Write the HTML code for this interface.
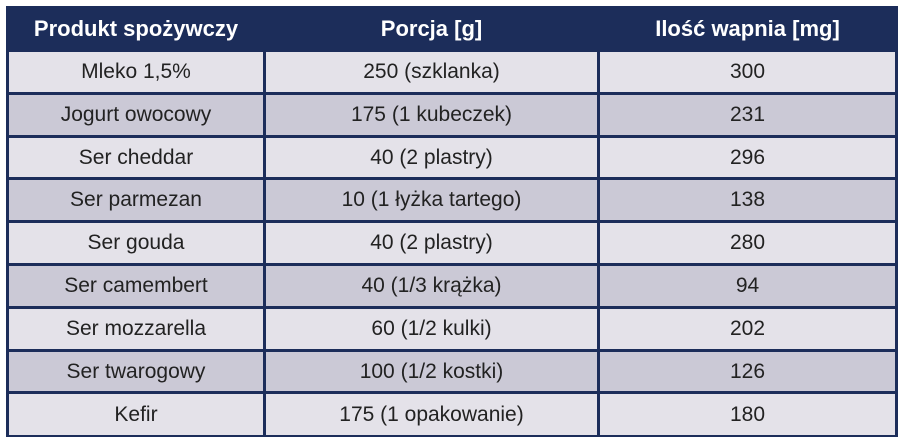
<!DOCTYPE html>
<html><head><meta charset="utf-8"><style>
body{margin:0;width:903px;height:442px;background:#fff;position:relative;overflow:hidden;font-family:"Liberation Sans",sans-serif}
.t{position:absolute;left:6px;top:6px;width:892px;height:431px;background:#1c2d5a}
.c{position:absolute;display:flex;align-items:center;justify-content:center;font-size:21px;color:#222}
.h{color:#fff;font-weight:bold;font-size:22px}
</style></head><body>
<div class="t"></div>
<div id="g"></div>
<script>
const rows=[["Mleko 1,5%","250 (szklanka)","300"],["Jogurt owocowy","175 (1 kubeczek)","231"],["Ser cheddar","40 (2 plastry)","296"],["Ser parmezan","10 (1 łyżka tartego)","138"],["Ser gouda","40 (2 plastry)","280"],["Ser camembert","40 (1/3 krążka)","94"],["Ser mozzarella","60 (1/2 kulki)","202"],["Ser twarogowy","100 (1/2 kostki)","126"],["Kefir","175 (1 opakowanie)","180"]];
const xs=[[9,263],[266,597],[600,895]];
let h='';
const hd=["Produkt spożywczy","Porcja [g]","Ilość wapnia [mg]"];
xs.forEach((x,i)=>{h+=`<div class="c h" style="left:${x[0]}px;width:${x[1]-x[0]}px;top:8px;height:41px">${hd[i]}</div>`});
rows.forEach((r,j)=>{const y0=Math.round(52+j*42.8),y1=Math.round(52+(j+1)*42.8)-3;const bg=j%2?'#cbc9d6':'#e4e2e9';
xs.forEach((x,i)=>{h+=`<div class="c" style="left:${x[0]}px;width:${x[1]-x[0]}px;top:${y0}px;height:${y1-y0+ (j==8?1:0)}px;background:${bg}">${r[i]}</div>`})});
document.getElementById('g').innerHTML=h;
</script>
</body></html>
